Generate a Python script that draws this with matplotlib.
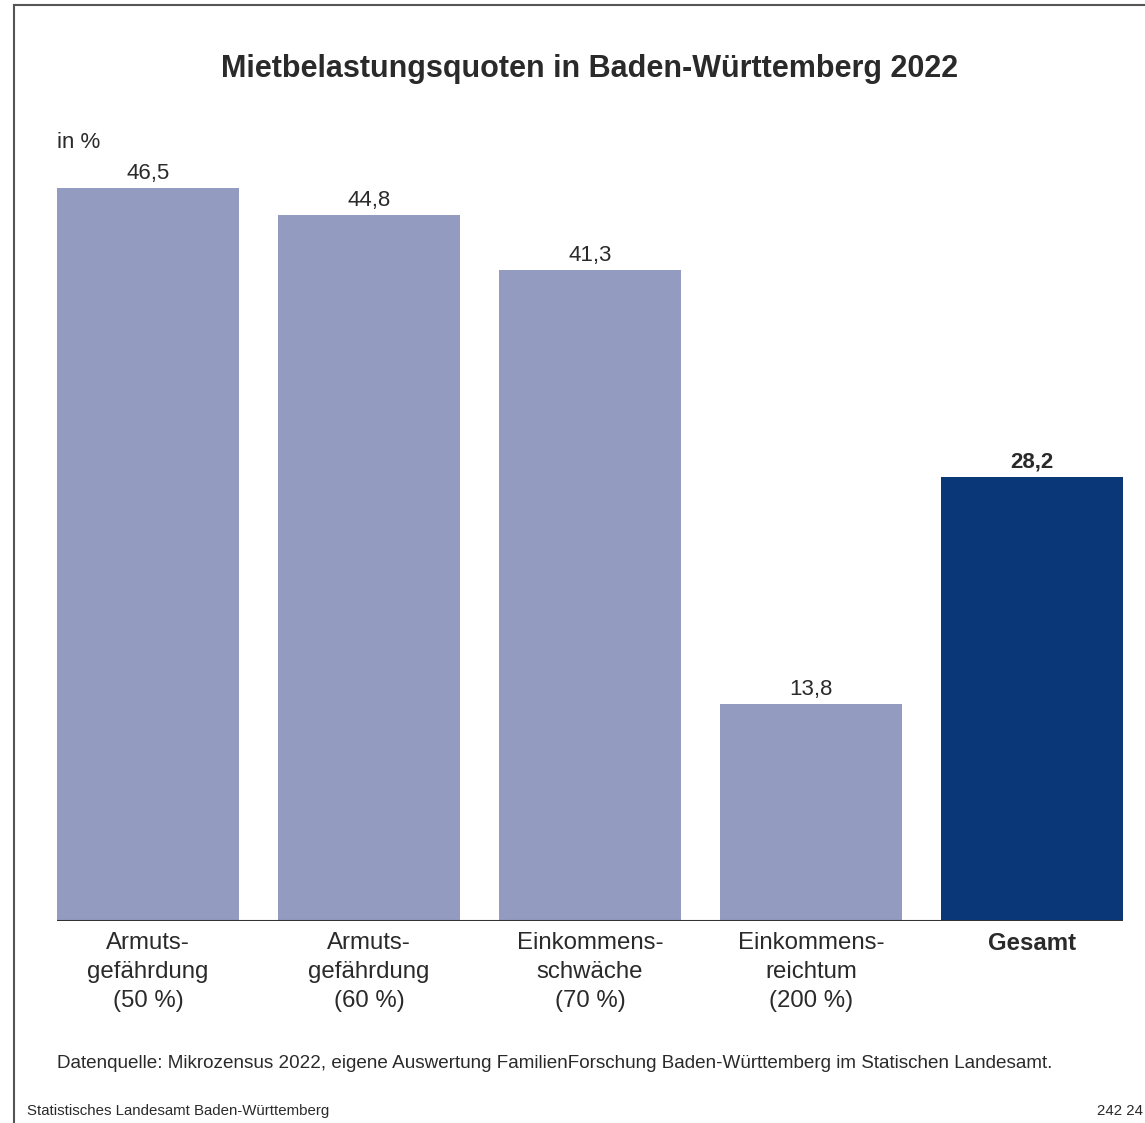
import matplotlib.pyplot as plt
from matplotlib.lines import Line2D

plt.rcParams["font.family"] = ["Liberation Sans", "DejaVu Sans"]

categories = [
    "Armuts-\ngefährdung\n(50 %)",
    "Armuts-\ngefährdung\n(60 %)",
    "Einkommens-\nschwäche\n(70 %)",
    "Einkommens-\nreichtum\n(200 %)",
    "Gesamt",
]
values = [46.5, 44.8, 41.3, 13.8, 28.2]
value_labels = ["46,5", "44,8", "41,3", "13,8", "28,2"]
highlight = [False, False, False, False, True]

light = "#939bc0"
dark = "#0a3778"
textcol = "#2a2a2a"

W, H = 1145, 1123
fig = plt.figure(figsize=(W / 100, H / 100), dpi=100)

# axes placed in pixel coordinates
left, right, bottom, top = 57, 1123, 921, 133
ax = fig.add_axes([left / W, 1 - bottom / H, (right - left) / W, (bottom - top) / H])

x = list(range(len(values)))
width = 0.823
colors = [dark if h else light for h in highlight]
bars = ax.bar(x, values, width=width, color=colors, edgecolor="none", zorder=2)

for rect, lab, h in zip(bars, value_labels, highlight):
    ax.text(rect.get_x() + rect.get_width() / 2, rect.get_height() + 0.25, lab,
            ha="center", va="bottom", fontsize=16, color=textcol,
            fontweight="bold" if h else "normal")

ax.set_xlim(-width / 2, len(values) - 1 + width / 2)
ax.set_ylim(0, 50)
ax.axhline(0, color="#333333", linewidth=1.5, zorder=3)
for s in ax.spines.values():
    s.set_visible(False)
ax.set_yticks([])
ax.set_xticks(x)
ax.set_xticklabels(categories, fontsize=17.3, color=textcol, linespacing=1.42)
for lbl, h in zip(ax.get_xticklabels(), highlight):
    if h:
        lbl.set_fontweight("bold")
ax.tick_params(axis="x", length=0, pad=8)

fig.text(590 / W, 1 - 69 / H, "Mietbelastungsquoten in Baden-Württemberg 2022",
         ha="center", va="center", fontsize=22, fontweight="bold", color=textcol)
fig.text(57 / W, 1 - 143 / H, "in %", ha="left", va="center", fontsize=16, color=textcol)
fig.text(57 / W, 1 - 1063 / H,
         "Datenquelle: Mikrozensus 2022, eigene Auswertung FamilienForschung "
         "Baden-Württemberg im Statischen Landesamt.",
         ha="left", va="center", fontsize=13.6, color=textcol)
fig.text(27 / W, 1 - 1111 / H, "Statistisches Landesamt Baden-Württemberg",
         ha="left", va="center", fontsize=10.8, color=textcol)
fig.text(1143 / W, 1 - 1111 / H, "242 24", ha="right", va="center",
         fontsize=10.8, color=textcol)

# frame lines at top and left
fig.add_artist(Line2D([14 / W, 14 / W], [0, 1 - 5 / H], color="#555555", linewidth=1.5))
fig.add_artist(Line2D([14 / W, 1], [1 - 5 / H, 1 - 5 / H], color="#555555", linewidth=1.5))

fig.savefig("out.png", dpi=100)
